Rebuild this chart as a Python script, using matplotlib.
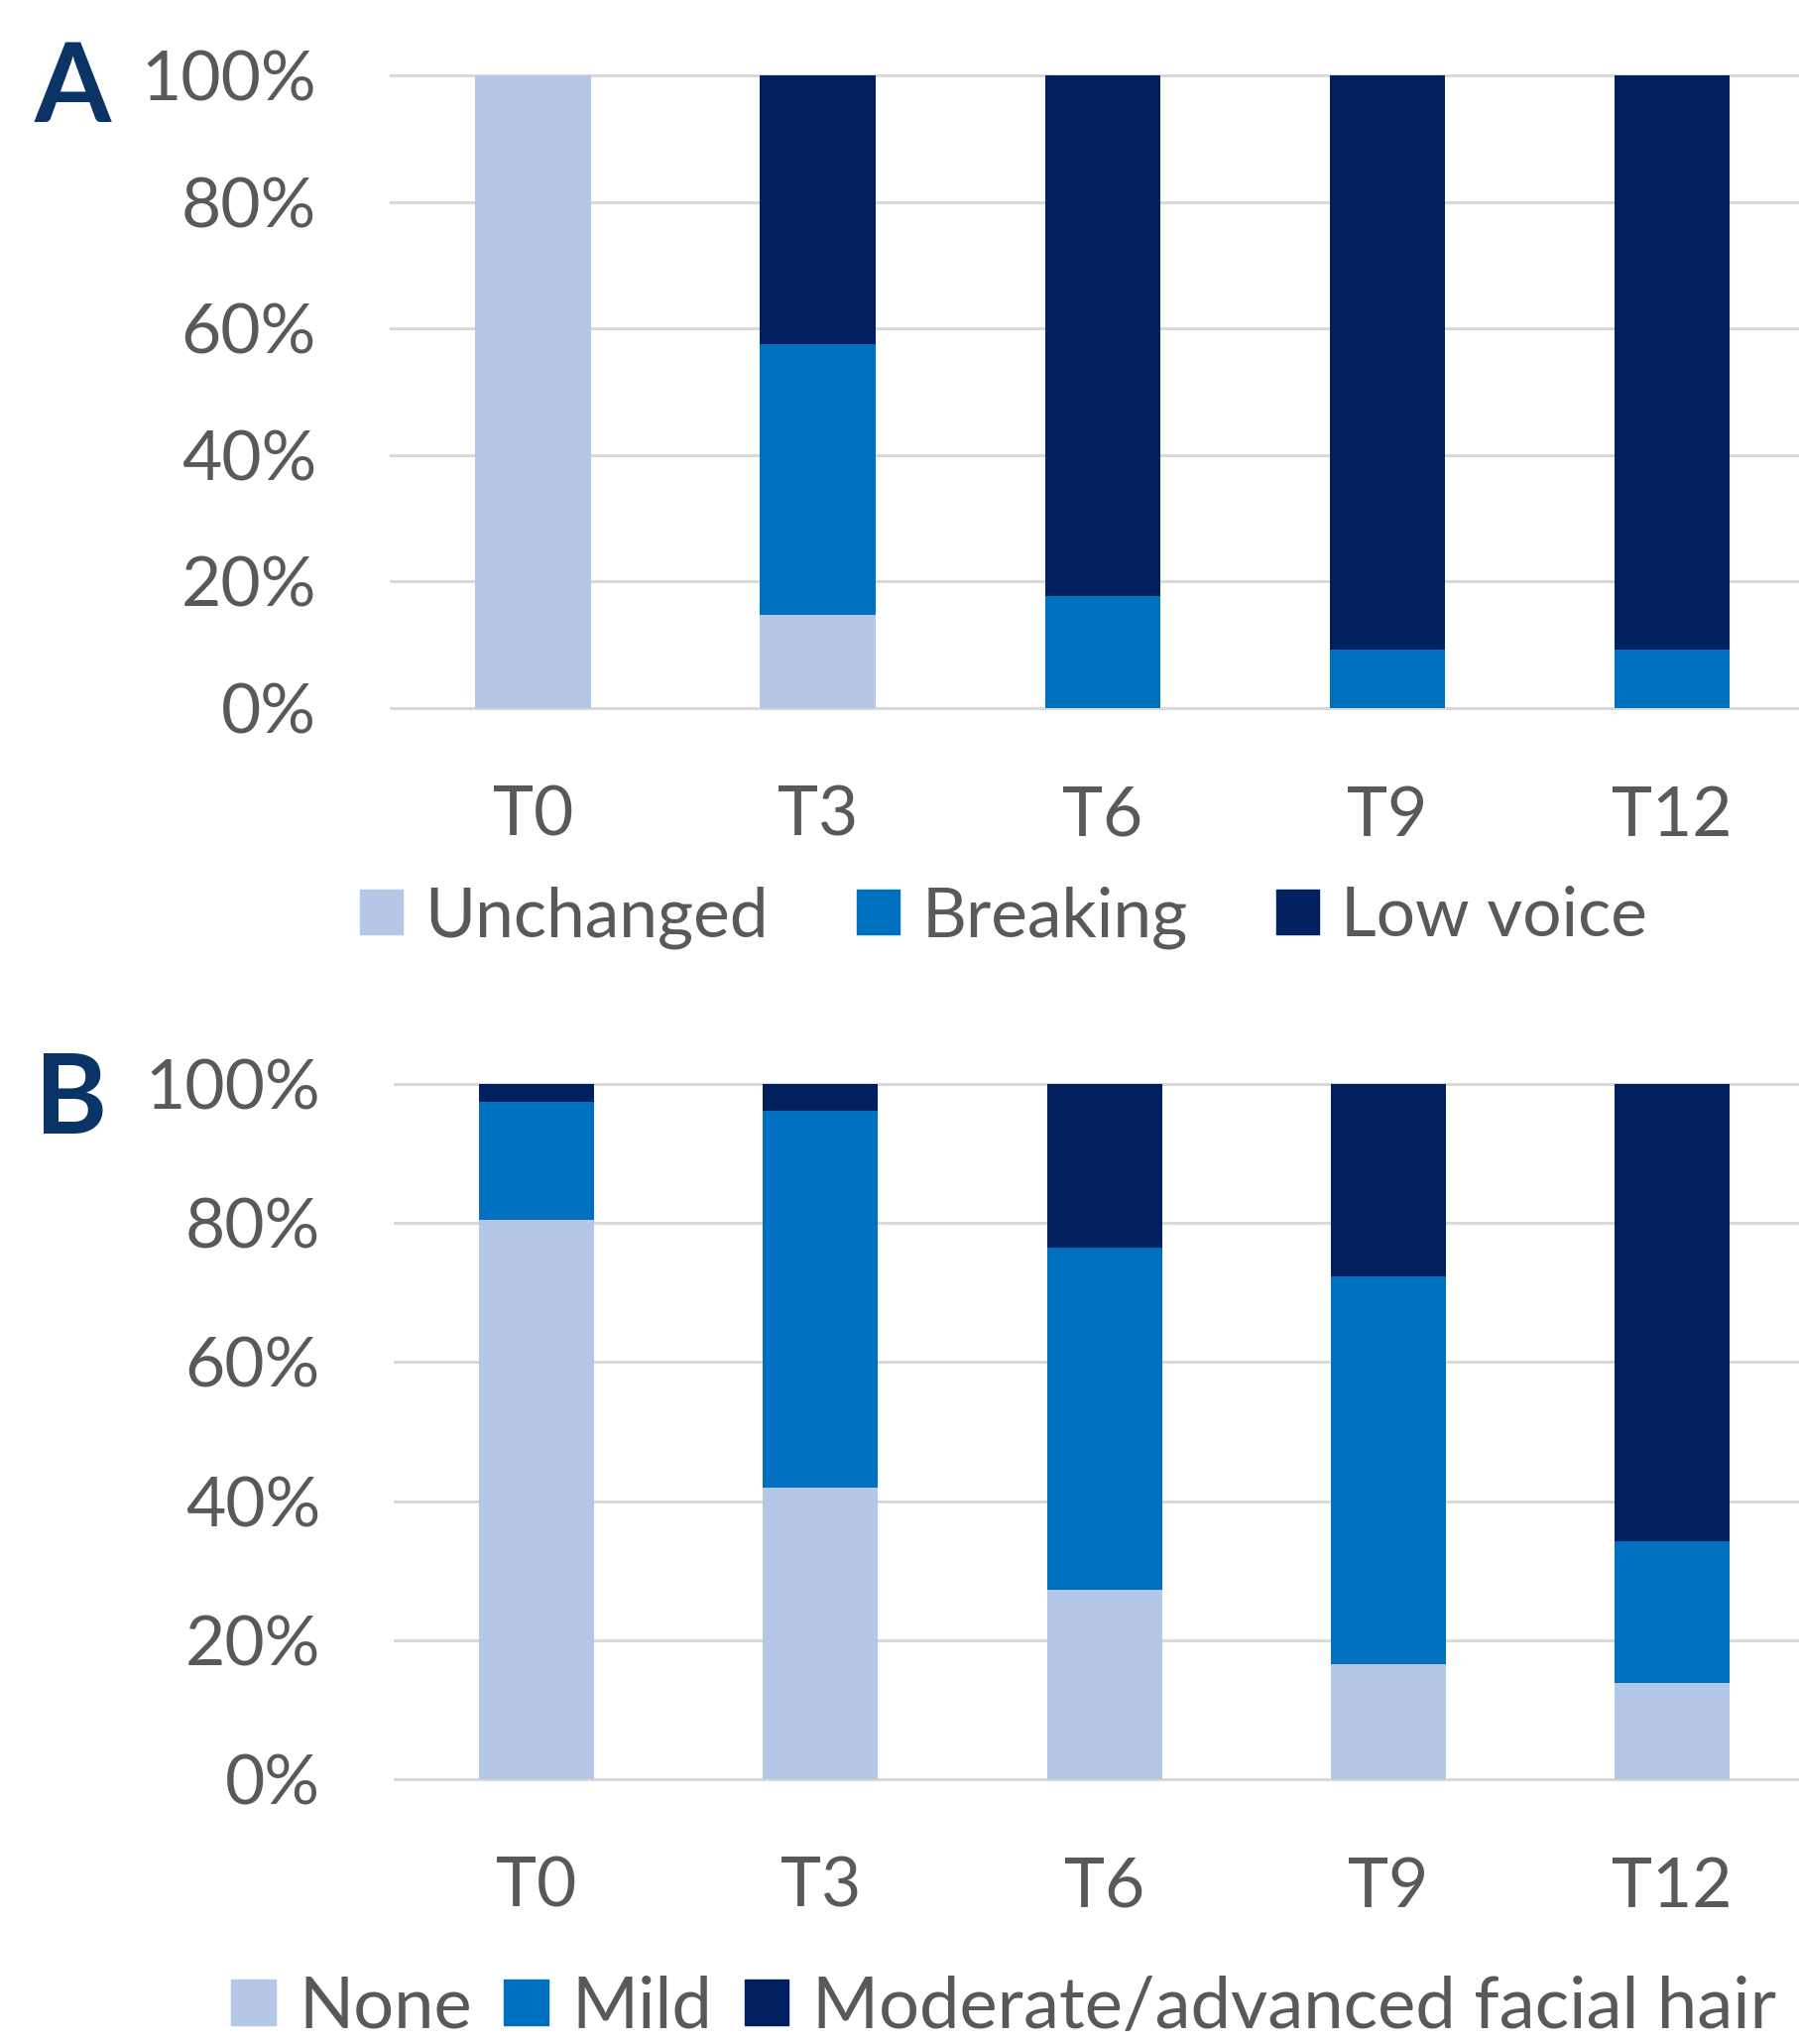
import numpy as np
import matplotlib
matplotlib.use('Agg')
import matplotlib.pyplot as plt
from matplotlib.patches import Patch

plt.rcParams['font.family'] = ['Lato', 'DejaVu Sans']

times = ['T0', 'T3', 'T6', 'T9', 'T12']

# panel A: voice
voice_labels = ['Unchanged', 'Breaking', 'Low voice']
unchanged = [100.0, 14.8, 0.0, 0.0, 0.0]
breaking = [0.0, 42.7, 17.7, 9.2, 9.2]
low_voice = [0.0, 42.5, 82.3, 90.8, 90.8]

# panel B: facial hair
hair_labels = ['None', 'Mild', 'Moderate/advanced facial hair']
hair_none = [80.5, 42.0, 27.2, 16.6, 13.8]
hair_mild = [17.0, 54.1, 49.3, 55.7, 20.4]
hair_mod = [2.5, 3.9, 23.5, 27.7, 65.8]

colors = ['#b4c7e7', '#0070c0', '#002060']
txt = '#595959'
fs = 50

fig = plt.figure(figsize=(18.15, 20.61), dpi=100)
W, H = 1815, 2061


def panel(box, series, labels, letter, letter_y, legend_y, colspace, legfs):
    ax = fig.add_axes(box)
    x = np.arange(len(times))
    bottom = np.zeros(len(times))
    for vals, c in zip(series, colors):
        ax.bar(x, vals, width=0.405, bottom=bottom, color=c, zorder=3)
        bottom += np.array(vals)
    ax.set_xlim(-0.5, 4.45)
    ax.set_ylim(0, 100)
    ax.set_yticks(range(0, 101, 20))
    ax.set_yticklabels([f'{v}%' for v in range(0, 101, 20)])
    ax.set_xticks(x)
    ax.set_xticklabels(times)
    ax.tick_params(length=0, labelsize=fs, labelcolor=txt)
    ax.tick_params(axis='y', pad=54)
    ax.tick_params(axis='x', pad=56)
    ax.grid(axis='y', color='#d9d9d9', linewidth=2.2, zorder=0)
    for gl in ax.get_ygridlines():
        gl.set_clip_on(False)
    for s in ax.spines.values():
        s.set_visible(False)
    fig.text(35 / W, 1 - letter_y / H, letter, fontsize=80, fontweight='bold',
             color='#0b3466', va='top', ha='left')
    handles = [Patch(color=c, label=l) for c, l in zip(colors, labels)]
    fig.legend(handles=handles, loc='center', bbox_to_anchor=(1012 / W, 1 - legend_y / H),
               ncol=3, frameon=False, fontsize=legfs, labelcolor=txt,
               handlelength=0.62, handleheight=0.62, handletextpad=0.32,
               columnspacing=colspace, borderpad=0)
    return ax


panel([394 / W, 1 - 714 / H, 1 - 394 / W, (714 - 76) / H],
      [unchanged, breaking, low_voice], voice_labels, 'A', 40, 925, 1.29, 50)
panel([398 / W, 1 - 1794 / H, 1 - 398 / W, (1794 - 1093) / H],
      [hair_none, hair_mild, hair_mod], hair_labels, 'B', 1060, 2024, 0.45, 52)

fig.savefig('out.png', dpi=100)
